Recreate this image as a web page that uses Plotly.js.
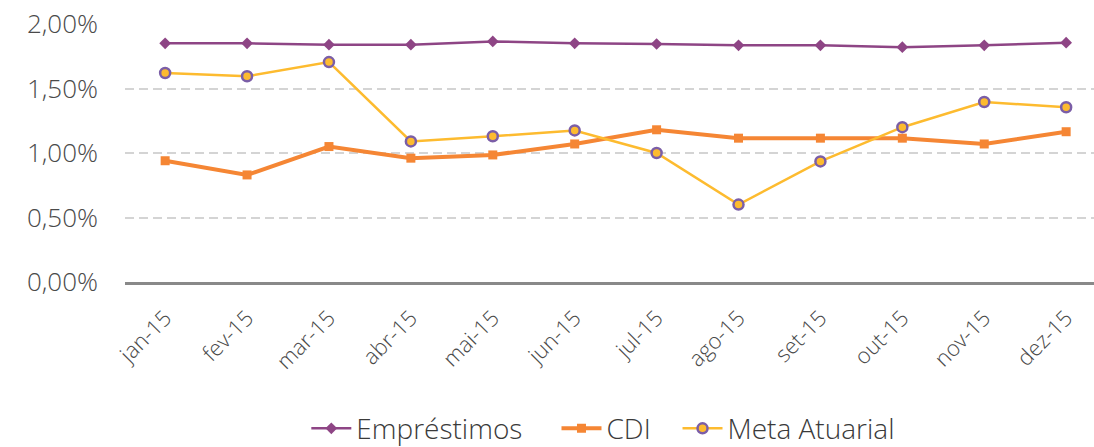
<!DOCTYPE html>
<html>
<head>
<meta charset="utf-8">
<script src="https://cdn.plot.ly/plotly-3.0.1.min.js"></script>
<style>html,body{margin:0;padding:0;background:#fff;}#chart{width:1094px;height:447px;}</style>
</head>
<body>
<div id="chart"></div>
<script>
const months = ["jan-15","fev-15","mar-15","abr-15","mai-15","jun-15","jul-15","ago-15","set-15","out-15","nov-15","dez-15"];
const emprestimos = [1.85, 1.85, 1.84, 1.84, 1.865, 1.85, 1.845, 1.835, 1.835, 1.82, 1.835, 1.855];
const cdi = [0.94, 0.83, 1.05, 0.96, 0.985, 1.07, 1.18, 1.115, 1.115, 1.115, 1.07, 1.165];
const meta = [1.62, 1.595, 1.705, 1.09, 1.13, 1.175, 1.0, 0.60, 0.935, 1.20, 1.395, 1.355];
const yTicks = [0, 0.5, 1.0, 1.5, 2.0];
const yTickLabels = ["0,00%", "0,50%", "1,00%", "1,50%", "2,00%"];
const seriesNames = ["Empréstimos\u00a0\u00a0\u00a0\u00a0", "CDI\u00a0\u00a0\u00a0", "Meta Atuarial"];

const traces = [
  {x: months, y: emprestimos, name: seriesNames[0], type: "scatter", mode: "lines+markers",
   line: {color: "#8E4585", width: 2.5}, marker: {symbol: "diamond", size: 9, color: "#8E4585"}},
  {x: months, y: cdi, name: seriesNames[1], type: "scatter", mode: "lines+markers",
   line: {color: "#F58634", width: 4}, marker: {symbol: "square", size: 9, color: "#F58634"}},
  {x: months, y: meta, name: seriesNames[2], type: "scatter", mode: "lines+markers",
   line: {color: "#FDBB2F", width: 2.5}, marker: {symbol: "circle", size: 10, color: "#FDBB2F", line: {color: "#7B5EA7", width: 2.5}}}
];

const layout = {
  width: 1094, height: 447,
  margin: {l: 125, r: 0, t: 23.5, b: 165, autoexpand: false},
  paper_bgcolor: "#fff", plot_bgcolor: "#fff",
  separators: ",.",
  font: {family: "Open Sans, sans-serif", color: "#4a4a4a", weight: 300},
  showlegend: true,
  legend: {orientation: "h", xref: "container", yref: "container", x: 0.28, xanchor: "left",
           y: 0.097, yanchor: "top",
           font: {size: 28, color: "#3a3a3a", weight: 300}, itemwidth: 40, tracegroupgap: 0},
  xaxis: {type: "category", range: [-0.49, 11.34], showgrid: false, showline: true, automargin: false,
          linecolor: "#898989", linewidth: 2.5, ticks: "", tickangle: -45,
          tickfont: {size: 22, color: "#4a4a4a", weight: 300}, ticklabelstandoff: 12, zeroline: false},
  yaxis: {range: [0, 2], tickmode: "array", tickvals: yTicks, ticktext: yTickLabels, automargin: false,
          showgrid: true, gridcolor: "#D4D4D4", gridwidth: 2, griddash: "9px,5px",
          showline: false, zeroline: false, ticks: "", ticklabelstandoff: 26,
          tickfont: {size: 26, color: "#4a4a4a", weight: 300}}
};

Plotly.newPlot("chart", traces, layout, {displayModeBar: false, staticPlot: true});
</script>
</body>
</html>
